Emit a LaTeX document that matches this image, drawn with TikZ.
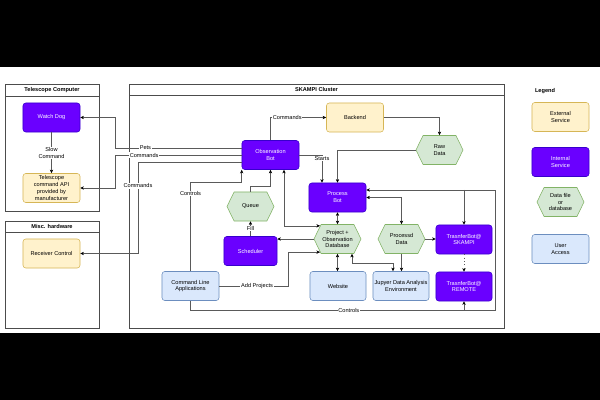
\documentclass[tikz,border=0pt]{standalone}
\usepackage{fontspec}
\setmainfont{Liberation Sans}
\usetikzlibrary{shapes.symbols,arrows.meta,calc}

\definecolor{extfill}{HTML}{FFF2CC}
\definecolor{extline}{HTML}{D6B656}
\definecolor{intfill}{HTML}{6A00FF}
\definecolor{intline}{HTML}{3700CC}
\definecolor{hexfill}{HTML}{D5E8D4}
\definecolor{hexline}{HTML}{82B366}
\definecolor{userfill}{HTML}{DAE8FC}
\definecolor{userline}{HTML}{6C8EBF}
\definecolor{wiregray}{HTML}{5A5A5A}

\newcommand{\tinyfont}{\fontsize{4}{4.9}\selectfont}

\tikzset{
  svc/.style = {align=center, inner sep=0.5pt, rounded corners=2pt, minimum width=1.425cm, minimum height=0.725cm, font=\tinyfont},
  extsvc/.style = {svc, fill=extfill, draw=extline},
  intsvc/.style = {svc, fill=intfill, draw=intline, text=white},
  useracc/.style = {svc, fill=userfill, draw=userline},
  datahex/.style = {signal, signal to=west and east, signal pointer angle=128, align=center, inner sep=0.5pt, minimum width=1.175cm, minimum height=0.725cm, fill=hexfill, draw=hexline, font=\tinyfont},
  frame/.style = {draw=black!70, line width=0.5pt},
  title/.style = {font=\tinyfont\bfseries},
  tip/.style = {},
  wire/.style = {draw=wiregray, line width=0.4pt, -{Stealth[length=2.6pt,width=2.4pt,color=black]}},
  wires/.style = {wire, {Stealth[length=2.6pt,width=2.4pt,color=black]}-{Stealth[length=2.6pt,width=2.4pt,color=black]}},
  lbl/.style = {fill=white, inner sep=0.5pt, align=center, font=\tinyfont},
}

\begin{document}
\begin{tikzpicture}[x=0.025cm, y=-0.025cm]
  \useasboundingbox (0,0) rectangle (600,400);
  \fill[black] (0,0) rectangle (600,400);
  \fill[white] (0,67) rectangle (600,333);

  % frames
  \draw[frame] (5,84) rectangle (99,211) (5,96) -- (99,96);
  \node[title] (telpc) at (52,90) {Telescope Computer};
  \draw[frame] (5,221) rectangle (99,328) (5,232) -- (99,232);
  \node[title] (mischw) at (52,226.5) {Misc. hardware};
  \draw[frame] (129,84) rectangle (504,328) (129,95) -- (504,95);
  \node[title] (skampi) at (316.5,89.5) {SKAMPI Cluster};

  % telescope side
  \node[intsvc] (watchdog) at (51.5,117.5) {Watch Dog};
  \node[extsvc] (telapi) at (51.5,188) {Telescope\\command API\\provided by\\manufacturer};
  \node[extsvc] (receiver) at (51.5,253.5) {Receiver Control};

  % cluster
  \node[intsvc] (obs) at (270.5,155) {Observation\\Bot};
  \node[extsvc] (backend) at (355,117.5) {Backend};
  \node[datahex] (rawdata) at (439.5,150) {Raw\\Data};
  \node[intsvc] (proc) at (337.5,197.5) {Process\\Bot};
  \node[datahex] (queue) at (250.5,206.5) {Queue};
  \node[intsvc, minimum width=1.325cm] (sched) at (250.5,251) {Scheduler};
  \node[datahex] (db) at (337.5,239) {Project +\\Observation\\Database};
  \node[datahex] (procdata) at (401.5,239) {Processd\\Data};
  \node[intsvc, minimum width=1.4cm] (tbs) at (464,239.5) {TrasnferBot@\\SKAMPI};
  \node[intsvc, minimum width=1.4cm] (tbr) at (464,286.5) {TrasnferBot@\\REMOTE};
  \node[useracc] (cla) at (190.5,286) {Command Line\\Applications};
  \node[useracc, minimum width=1.4cm] (website) at (338,286) {Website};
  \node[useracc, minimum width=1.4cm] (jupyter) at (401,286) {Jupyer Data Analysis\\Environment};

  % legend
  \node[title] (legend) at (545,91) {Legend};
  \node[extsvc] (lgext) at (560.5,117) {External\\Service};
  \node[intsvc] (lgint) at (560.5,162) {Internal\\Service};
  \node[datahex] (lgdata) at (560.5,202) {Data file\\or\\database};
  \node[useracc] (lguser) at (560.5,249) {User\\Access};

  % connectors
  \draw[wire] (watchdog) -- node[lbl] {Slow\\Command} (telapi);
  \draw[wire] ($(obs.west)+(0,-7)$) -- node[lbl, pos=0.76] {Pets} (115,148) |- (watchdog.east);
  \draw[wire] (obs.west) -- node[lbl, pos=0.77] {Commands} (115,155) |- (telapi.east);
  \draw[wire] ($(obs.west)+(0,7)$) -- (138,162) |- node[lbl, pos=0.13] {Commands} (receiver.east);
  \draw[wire] (cla.north) -- node[lbl, pos=0.87] {Controls} (190.5,182) -| (obs.south west);
  \draw[wire] (obs.north) |- node[lbl, pos=0.65] {Commands} (backend.west);
  \draw[wire] (backend.east) -| (rawdata.north);
  \draw[wire] (rawdata.west) -| (proc.north);
  \draw[wire] (obs.east) -| node[lbl, pos=0.56] {Starts} ($(proc.north)+(-15.5,0)$);
  \draw[wire] (queue.north) -- ++(0,-5) -| (obs.south);
  \draw[wires] ($(obs.south)+(13.5,0)$) |- (db.143);
  \draw[wire] (db.west) -- (db.west -| sched.east);
  \draw[wire] (sched.north) -- node[lbl] {Fill} (queue.south);
  \draw[wire] (cla.east) -- node[lbl, pos=0.55] {Add Projects} (288,286) |- (db.217);
  \draw[wires] (proc.south) -- (db.north);
  \draw[wires] (db.south) -- (db.south |- website.north);
  \draw[wires] ($(db.south)+(14.5,0)$) -- ++(0,9) -| ($(jupyter.north)+(-8,0)$);
  \draw[wires] (proc.east) -| (procdata.north);
  \draw[wire] (procdata.east) -- (procdata.east -| tbs.west);
  \draw[wire] (procdata.south) -- (procdata.south |- jupyter.north);
  \draw[wire, dotted] (tbs.south) -- (tbr.north);
  \coordinate (ctlfoot) at (190.5,310);
  \coordinate (ctlcorner) at (495,310);
  \coordinate (ctltop) at (495,190);
  \draw[wire] (cla.south) -- (ctlfoot) -- node[lbl, pos=0.52] {Controls} (ctlcorner) -- (ctltop) -- (ctltop -| proc.east);
  \draw[wire] (ctlfoot -| tbr.south) -- (tbr.south);
  \draw[wire] (ctltop -| tbs.north) -- (tbs.north);
\end{tikzpicture}
\end{document}
